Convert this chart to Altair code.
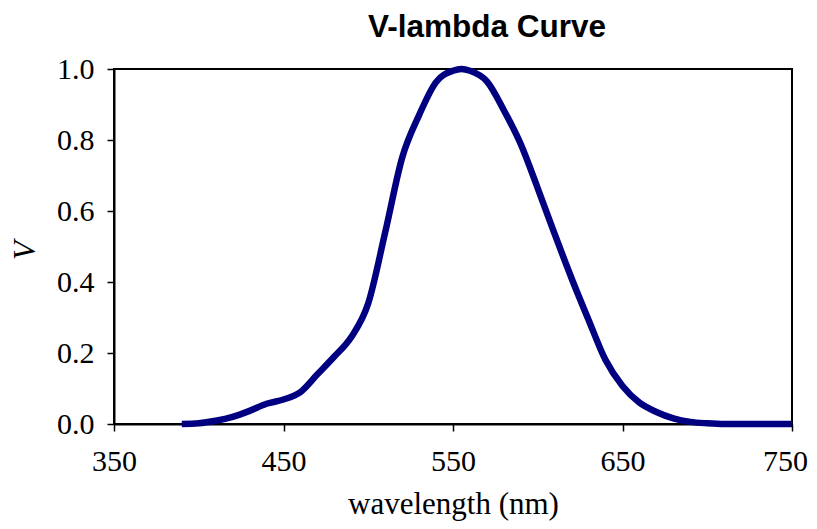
import altair as alt
import pandas as pd

# wavelength (nm) and relative luminous efficiency V
wavelength = [390, 400, 410, 420, 430, 440, 450, 460, 470, 480, 490, 500,
              510, 520, 530, 540, 550, 555, 560, 570, 580, 590, 600, 610,
              620, 630, 640, 650, 660, 670, 680, 690, 700, 710, 750]
v_values = [0.0, 0.002, 0.009, 0.02, 0.037, 0.057, 0.069, 0.09, 0.14, 0.19,
            0.245, 0.34, 0.54, 0.75, 0.87, 0.963, 0.995, 1.0, 0.995, 0.965,
            0.884, 0.788, 0.664, 0.535, 0.41, 0.293, 0.18, 0.107, 0.06,
            0.034, 0.016, 0.006, 0.002, 0.0, 0.0]

x_ticks = [350, 450, 550, 650, 750]
y_ticks = [0.0, 0.2, 0.4, 0.6, 0.8, 1.0]
chart_title = "V-lambda Curve"

df = pd.DataFrame({"wavelength": wavelength, "V": v_values})

serif = "Liberation Serif"

line = (
    alt.Chart(df)
    .mark_line(color="#000080", strokeWidth=6.5, interpolate="monotone",
               strokeCap="butt", strokeJoin="round")
    .encode(
        x=alt.X(
            "wavelength:Q",
            scale=alt.Scale(domain=[350, 750], nice=False, zero=False),
            axis=alt.Axis(
                values=x_ticks,
                title="wavelength (nm)",
                titleFont=serif,
                titleFontSize=31,
                titleFontWeight="normal",
                titleColor="black",
                titleBaseline="alphabetic",
                titleX=339,
                titleY=89,
                labelFont=serif,
                labelFontSize=30,
                labelColor="black",
                labelPadding=15,
                labelFlush=False,
                labelOverlap=False,
                labelOffset={"condition": {"test": "datum.value == 750", "value": -7}, "value": 0},
                grid=False,
                domainColor="black",
                domainWidth=2,
                tickColor="black",
                tickWidth=1.5,
                tickSize=7,
            ),
        ),
        y=alt.Y(
            "V:Q",
            scale=alt.Scale(domain=[0, 1], nice=False),
            axis=alt.Axis(
                values=y_ticks,
                format=".1f",
                title="V",
                titleFont=serif,
                titleFontSize=31,
                titleFontStyle="italic",
                titleFontWeight="normal",
                titleColor="black",
                titleAngle=270,
                titleAlign="center",
                titleBaseline="middle",
                titleX=-89,
                titleY=181,
                labelFont=serif,
                labelFontSize=30,
                labelColor="black",
                labelPadding=13,
                labelFlush=False,
                labelOverlap=False,
                grid=False,
                domainColor="black",
                domainWidth=2,
                tickColor="black",
                tickWidth=1.5,
                tickSize=7,
            ),
        ),
    )
)

title_text = (
    alt.Chart(pd.DataFrame({"t": [chart_title]}))
    .mark_text(font="Liberation Sans", fontSize=31.5, fontWeight="bold",
               color="black", align="center", baseline="alphabetic")
    .encode(text="t:N", x=alt.value(373), y=alt.value(-32))
)

chart = (
    alt.layer(line, title_text)
    .properties(
        width=678,
        height=355,
        padding={"left": 106, "top": 61, "right": 17, "bottom": 97},
        autosize=alt.AutoSizeParams(type="none"),
        background="white",
    )
    .configure_view(stroke="black", strokeWidth=2)
)

chart.save("out.html", embed_options={"renderer": "svg", "actions": False})
